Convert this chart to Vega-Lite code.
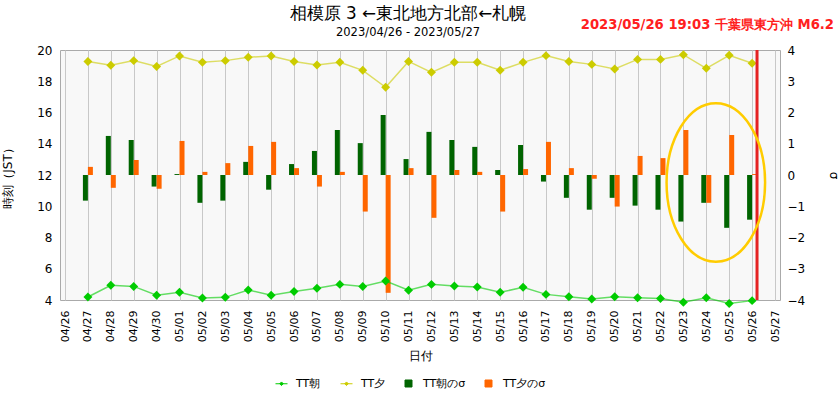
{
  "$schema": "https://vega.github.io/schema/vega-lite/v6.json",
  "width": 720,
  "height": 250,
  "autosize": {"type": "none"},
  "padding": {"left": 60, "top": 50, "right": 60, "bottom": 100},
  "background": "white",
  "config": {
    "font": "DejaVu Sans",
    "view": {"fill": "#f8f8f8", "stroke": "#aaaaaa"},
    "axis": {
      "ticks": false,
      "domain": false,
      "gridColor": "#c8c8c8",
      "gridWidth": 1,
      "labelColor": "#000000",
      "titleColor": "#000000",
      "titleFontWeight": "normal",
      "labelFontSize": 12,
      "titleFontSize": 12,
      "labelOverlap": false
    },
    "legend": {"symbolOpacity": 1}
  },
  "title": {
    "text": "相模原 3 ←東北地方北部←札幌",
    "subtitle": "2023/04/26 - 2023/05/27",
    "fontSize": 16.8,
    "fontWeight": "normal",
    "subtitleFontSize": 11.5,
    "subtitlePadding": 4,
    "color": "#000000",
    "subtitleColor": "#000000",
    "anchor": "middle",
    "dx": -12,
    "offset": -20
  },
  "datasets": {
    "daily": [
      {"d": "2023-04-27", "am": 4.19, "pm": 19.27, "amS": -0.82, "pmS": 0.26},
      {"d": "2023-04-28", "am": 4.94, "pm": 19.02, "amS": 1.25, "pmS": -0.41},
      {"d": "2023-04-29", "am": 4.87, "pm": 19.32, "amS": 1.12, "pmS": 0.48},
      {"d": "2023-04-30", "am": 4.30, "pm": 18.95, "amS": -0.37, "pmS": -0.44},
      {"d": "2023-05-01", "am": 4.49, "pm": 19.62, "amS": 0.03, "pmS": 1.09},
      {"d": "2023-05-02", "am": 4.13, "pm": 19.21, "amS": -0.89, "pmS": 0.10},
      {"d": "2023-05-03", "am": 4.17, "pm": 19.32, "amS": -0.82, "pmS": 0.38},
      {"d": "2023-05-04", "am": 4.64, "pm": 19.53, "amS": 0.42, "pmS": 0.93},
      {"d": "2023-05-05", "am": 4.30, "pm": 19.62, "amS": -0.47, "pmS": 1.06},
      {"d": "2023-05-06", "am": 4.55, "pm": 19.27, "amS": 0.35, "pmS": 0.22},
      {"d": "2023-05-07", "am": 4.75, "pm": 19.04, "amS": 0.77, "pmS": -0.37},
      {"d": "2023-05-08", "am": 5.00, "pm": 19.21, "amS": 1.44, "pmS": 0.10},
      {"d": "2023-05-09", "am": 4.87, "pm": 18.70, "amS": 1.02, "pmS": -1.17},
      {"d": "2023-05-10", "am": 5.22, "pm": 17.61, "amS": 1.92, "pmS": -3.77},
      {"d": "2023-05-11", "am": 4.62, "pm": 19.27, "amS": 0.51, "pmS": 0.22},
      {"d": "2023-05-12", "am": 5.00, "pm": 18.57, "amS": 1.38, "pmS": -1.37},
      {"d": "2023-05-13", "am": 4.90, "pm": 19.21, "amS": 1.12, "pmS": 0.16},
      {"d": "2023-05-14", "am": 4.83, "pm": 19.21, "amS": 0.90, "pmS": 0.10},
      {"d": "2023-05-15", "am": 4.49, "pm": 18.70, "amS": 0.16, "pmS": -1.17},
      {"d": "2023-05-16", "am": 4.81, "pm": 19.21, "amS": 0.96, "pmS": 0.19},
      {"d": "2023-05-17", "am": 4.36, "pm": 19.64, "amS": -0.21, "pmS": 1.06},
      {"d": "2023-05-18", "am": 4.21, "pm": 19.27, "amS": -0.73, "pmS": 0.22},
      {"d": "2023-05-19", "am": 4.06, "pm": 19.08, "amS": -1.11, "pmS": -0.12},
      {"d": "2023-05-20", "am": 4.21, "pm": 18.78, "amS": -0.73, "pmS": -1.01},
      {"d": "2023-05-21", "am": 4.15, "pm": 19.40, "amS": -0.98, "pmS": 0.61},
      {"d": "2023-05-22", "am": 4.09, "pm": 19.40, "amS": -1.11, "pmS": 0.54},
      {"d": "2023-05-23", "am": 3.85, "pm": 19.70, "amS": -1.49, "pmS": 1.44},
      {"d": "2023-05-24", "am": 4.15, "pm": 18.83, "amS": -0.89, "pmS": -0.89},
      {"d": "2023-05-25", "am": 3.77, "pm": 19.66, "amS": -1.69, "pmS": 1.28},
      {"d": "2023-05-26", "am": 3.96, "pm": 19.15, "amS": -1.43, "pmS": 0.03}
    ],
    "quake": [
      {"d": "2023-05-26T05:10:00Z", "val": 20, "label": "2023/05/26 19:03 千葉県東方沖 M6.2"}
    ],
    "circle": [
      {"d": "2023-05-24T10:00:00Z", "val": 11.52}
    ]
  },
  "layer": [
    {
      "data": {"name": "daily"},
      "encoding": {
        "x": {
          "field": "d",
          "type": "temporal",
          "title": "日付",
          "scale": {
            "type": "utc",
            "domain": [
              {"year": 2023, "month": 4, "date": 26, "utc": true},
              {"year": 2023, "month": 5, "date": 27, "utc": true}
            ],
            "nice": false
          },
          "axis": {
            "format": "%m/%d",
            "labelAngle": -90,
            "labelFontSize": 11,
            "labelPadding": 10,
            "titlePadding": 9,
            "tickCount": {"interval": "day", "step": 1},
            "labelFlush": false,
            "labelOverlap": false
          }
        }
      },
      "layer": [
        {
          "mark": {"type": "bar", "size": 5, "xOffset": -2.5},
          "encoding": {
            "y": {
              "field": "amS",
              "type": "quantitative",
              "title": "σ",
              "scale": {"domain": [-4, 4], "nice": false},
              "axis": {"orient": "right", "grid": false, "values": [-4, -3, -2, -1, 0, 1, 2, 3, 4], "tickCount": 9, "labelOverlap": false, "labelPadding": 7, "titlePadding": 22}
            },
            "y2": {"datum": 0},
            "color": {"datum": "amS"}
          }
        },
        {
          "mark": {"type": "bar", "size": 5, "xOffset": 2.5},
          "encoding": {
            "y": {"field": "pmS", "type": "quantitative", "title": "σ"},
            "y2": {"datum": 0},
            "color": {"datum": "pmS"}
          }
        }
      ]
    },
    {
      "layer": [
        {
          "data": {"name": "daily"},
          "transform": [{"fold": ["am", "pm"], "as": ["key", "val"]}],
          "encoding": {
            "x": {"field": "d", "type": "temporal", "title": "日付"},
            "y": {
              "field": "val",
              "type": "quantitative",
              "title": "時刻（JST）",
              "scale": {"domain": [4, 20], "nice": false},
              "axis": {"orient": "left", "values": [4, 6, 8, 10, 12, 14, 16, 18, 20], "tickCount": 9, "labelOverlap": false, "labelPadding": 8, "titlePadding": 22}
            },
            "color": {
              "field": "key",
              "type": "nominal",
              "scale": {
                "domain": ["am", "pm", "amS", "pmS"],
                "range": ["#00cc00", "#cccc00", "#006400", "#ff6600"]
              },
              "legend": {
                "orient": "none",
                "legendX": 216,
                "legendY": 328,
                "direction": "horizontal",
                "title": null,
                "labelExpr": "datum.label === 'am' ? 'TT朝' : datum.label === 'pm' ? 'TT夕' : datum.label === 'amS' ? 'TT朝のσ' : 'TT夕のσ'",
                "labelFontSize": 11,
                "labelColor": "#000000",
                "columnPadding": 17,
                "labelOffset": 9,
                "symbolOpacity": 1,
                "encoding": {
                  "symbols": {
                    "shape": {"value": {"expr": "datum.value === 'am' || datum.value === 'pm' ? 'M-1,0H1M0,-0.3L0.3,0L0,0.3L-0.3,0Z' : 'square'"}},
                    "size": {"value": {"expr": "datum.value === 'am' || datum.value === 'pm' ? 144 : 49"}},
                    "fill": {"value": {"expr": "datum.value === 'am' ? '#00cc00' : datum.value === 'pm' ? '#cccc00' : datum.value === 'amS' ? '#006400' : '#ff6600'"}},
                    "stroke": {"value": {"expr": "datum.value === 'am' ? '#00cc00' : datum.value === 'pm' ? '#cccc00' : '#777777'"}},
                    "strokeWidth": {"value": 1},
                    "opacity": {"value": 1}
                  }
                }
              }
            }
          },
          "layer": [
            {"mark": {"type": "line", "strokeWidth": 1.5, "opacity": 0.6}},
            {"mark": {"type": "point", "shape": "diamond", "filled": true, "size": 80, "opacity": 1}}
          ]
        },
        {
          "data": {"name": "quake"},
          "mark": {"type": "rule", "color": "#e52222", "strokeWidth": 3},
          "encoding": {
            "x": {"field": "d", "type": "temporal", "title": "日付"}
          }
        },
        {
          "data": {"name": "quake"},
          "mark": {"type": "text", "align": "right", "baseline": "alphabetic", "dx": 77, "dy": -21, "fontSize": 13.2, "fontWeight": "bold", "color": "#ff2020"},
          "encoding": {
            "x": {"field": "d", "type": "temporal", "title": "日付"},
            "y": {"field": "val", "type": "quantitative", "title": "時刻（JST）"},
            "text": {"field": "label"}
          }
        },
        {
          "data": {"name": "circle"},
          "mark": {
            "type": "point",
            "shape": "M0.622,0C0.622,0.552 0.344,1 0,1C-0.344,1 -0.622,0.552 -0.622,0C-0.622,-0.552 -0.344,-1 0,-1C0.344,-1 0.622,-0.552 0.622,0Z",
            "size": 25090,
            "filled": false,
            "color": "#ffcc00",
            "strokeWidth": 2.5,
            "opacity": 1
          },
          "encoding": {
            "x": {"field": "d", "type": "temporal", "title": "日付"},
            "y": {"field": "val", "type": "quantitative", "title": "時刻（JST）"}
          }
        }
      ]
    }
  ],
  "resolve": {"scale": {"y": "independent"}}
}
